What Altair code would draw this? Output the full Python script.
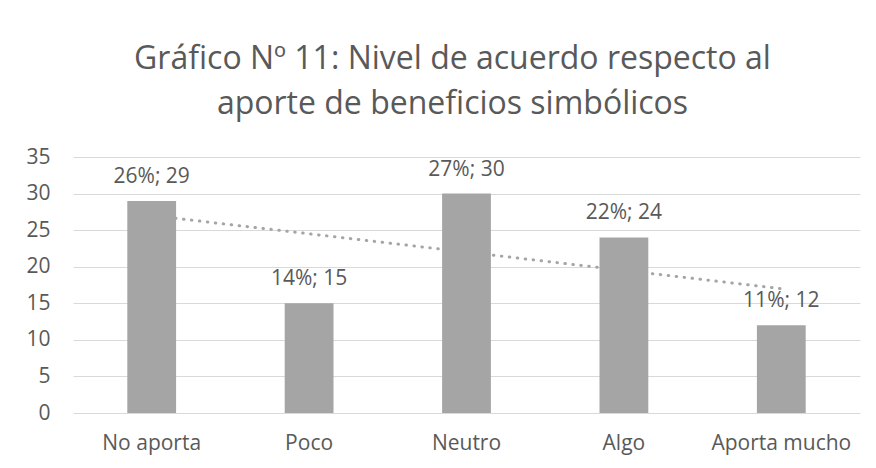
import altair as alt
import pandas as pd

categories = ["No aporta", "Poco", "Neutro", "Algo", "Aporta mucho"]
counts = [29, 15, 30, 24, 12]
percents = ["26%", "14%", "27%", "22%", "11%"]
y_ticks = [0, 5, 10, 15, 20, 25, 30, 35]

df = pd.DataFrame({
    "cat": categories,
    "count": counts,
    "idx": list(range(1, len(categories) + 1)),
    "label": [f"{p}; {c}" for p, c in zip(percents, counts)],
})

TXT = "#595959"
GRAY = "#A5A5A5"
FONT = "Open Sans"

band = alt.Scale(paddingInner=0.69, paddingOuter=0.345)
yscale = alt.Scale(domain=[0, 35])
yaxis = alt.Axis(values=y_ticks, labelFontSize=21, labelColor=TXT, labelFont=FONT,
                 ticks=False, domain=False, labelPadding=23,
                 gridColor="#D9D9D9", gridWidth=1)

trend = alt.Chart(df).transform_regression("idx", "count", extent=[1, 5]).mark_line(
    color=GRAY, strokeWidth=3, strokeDash=[0.5, 7.5], strokeCap="round"
).encode(
    x=alt.X("idx:Q", scale=alt.Scale(domain=[0.5, 5.5], nice=False, zero=False), axis=None),
    y=alt.Y("count:Q", scale=yscale, title=None, axis=yaxis),
)

bars = alt.Chart(df).mark_bar(color=GRAY).encode(
    x=alt.X("cat:N", sort=categories, title=None, scale=band,
            axis=alt.Axis(labelAngle=0, labelFontSize=21, labelColor=TXT, labelFont=FONT,
                          ticks=False, domain=False, labelPadding=19)),
    y=alt.Y("count:Q", scale=yscale, title=None, axis=yaxis),
)

labels = alt.Chart(df).mark_text(baseline="bottom", dy=-14, fontSize=21, color=TXT, font=FONT).encode(
    x=alt.X("cat:N", sort=categories, title=None, scale=band, axis=None),
    y=alt.Y("count:Q", scale=yscale, title=None, axis=yaxis),
    text="label:N",
)

chart = alt.layer(trend, bars, labels).resolve_scale(x="independent").properties(
    width=787, height=256,
    autosize=alt.AutoSizeParams(type="none"),
    padding={"left": 65, "top": 149, "right": 8, "bottom": 47},
    title=alt.TitleParams(
        ["Gráfico Nº 11: Nivel de acuerdo respecto al", "aporte de beneficios simbólicos"],
        fontSize=32, font=FONT, fontWeight="normal", color=TXT, anchor="middle",
        lineHeight=45, offset=25, dx=-14,
    ),
).configure(background="white").configure_view(strokeWidth=0)

chart.save("out.html", embed_options={"renderer": "svg", "actions": False})
